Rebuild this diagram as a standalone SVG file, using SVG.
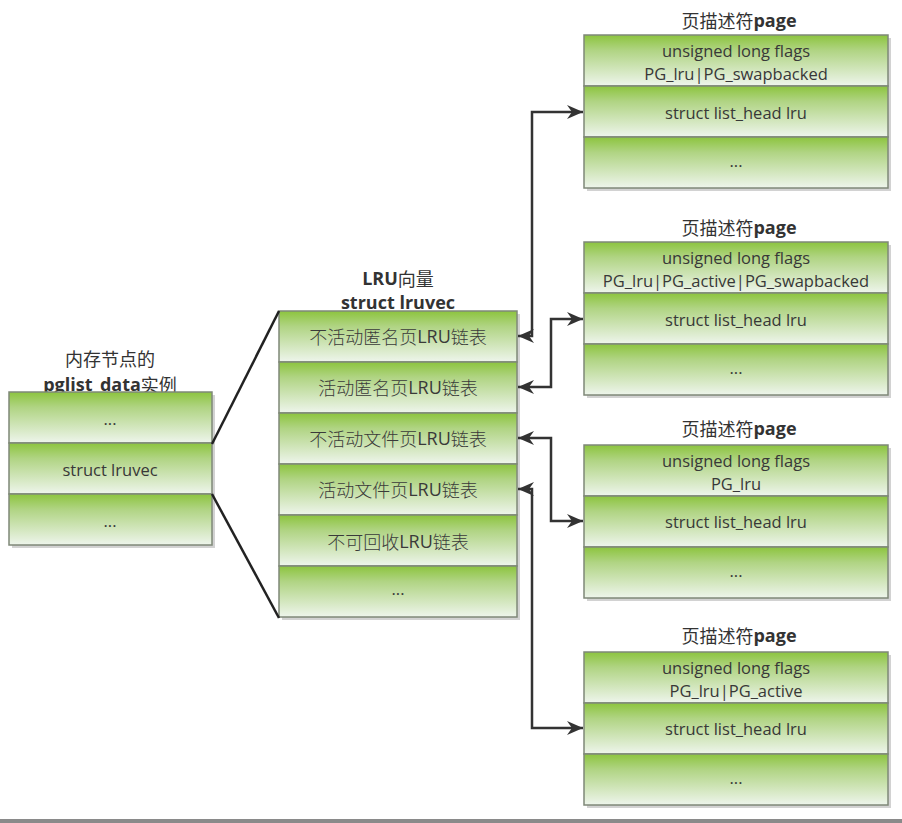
<svg xmlns="http://www.w3.org/2000/svg" width="902" height="823" viewBox="0 0 902 823">
<defs>
<linearGradient id="g" x1="0" y1="0" x2="0" y2="1">
<stop offset="0" stop-color="#8cc43e"/>
<stop offset="0.3" stop-color="#b0d483"/>
<stop offset="1" stop-color="#eef5ec"/>
</linearGradient>
<marker id="ah" markerUnits="userSpaceOnUse" markerWidth="17" markerHeight="14" refX="16" refY="7" orient="auto-start-reverse" viewBox="0 0 17 14">
<path d="M0,0 L16,7 L0,14 L5,7 z" fill="#333"/>
</marker>
</defs>
<style>
.row{fill:url(#g);stroke:#7f8878;stroke-width:1.5}
.sh{fill:#d2d2d2}
.en{font-family:"Open Sans","Noto Sans",sans-serif;font-size:16.5px;fill:#383838;text-anchor:middle;dominant-baseline:central}
.cn{font-family:"Noto Sans CJK SC",sans-serif;font-size:18px;font-weight:300;fill:#3a3a3a;text-anchor:middle;dominant-baseline:central}
.tt{font-family:"Noto Sans CJK SC",sans-serif;font-size:18px;fill:#333;text-anchor:middle;dominant-baseline:central}
.b{font-family:"Open Sans","Noto Sans",sans-serif;font-weight:bold}
.l{font-family:"Open Sans","Noto Sans",sans-serif;font-weight:normal}
.con{fill:none;stroke:#333;stroke-width:2.5}
.ln{fill:none;stroke:#222;stroke-width:2.5}
</style>

<g id="pglist_data">
<text class="tt" x="110" y="358">内存节点的</text>
<text class="tt" x="110" y="384"><tspan class="b">pglist_data</tspan>实例</text>
<rect class="sh" x="12" y="395" width="203" height="153"/>
<rect class="row" x="9" y="392" width="203" height="51"/>
<rect class="row" x="9" y="443" width="203" height="51"/>
<rect class="row" x="9" y="494" width="203" height="51"/>
<text class="en" x="110" y="418">...</text>
<text class="en" x="110" y="469">struct lruvec</text>
<text class="en" x="110" y="520">...</text>
</g>

<g id="lruvec">
<text class="tt" x="398" y="278"><tspan class="b">LRU</tspan>向量</text>
<text class="tt b" x="398" y="302">struct lruvec</text>
<rect class="sh" x="282" y="314" width="238" height="306"/>
<rect class="row" x="279" y="311" width="238" height="51"/>
<rect class="row" x="279" y="362" width="238" height="51"/>
<rect class="row" x="279" y="413" width="238" height="51"/>
<rect class="row" x="279" y="464" width="238" height="51"/>
<rect class="row" x="279" y="515" width="238" height="51"/>
<rect class="row" x="279" y="566" width="238" height="51"/>
<text class="cn" x="398" y="336">不活动匿名页<tspan class="l">LRU</tspan>链表</text>
<text class="cn" x="398" y="387">活动匿名页<tspan class="l">LRU</tspan>链表</text>
<text class="cn" x="398" y="438">不活动文件页<tspan class="l">LRU</tspan>链表</text>
<text class="cn" x="398" y="489">活动文件页<tspan class="l">LRU</tspan>链表</text>
<text class="cn" x="398" y="541">不可回收<tspan class="l">LRU</tspan>链表</text>
<text class="en" x="398" y="588">...</text>
</g>

<g id="page1">
<text class="tt" x="739" y="20">页描述符<tspan class="b">page</tspan></text>
<rect class="sh" x="587" y="38" width="304" height="153"/>
<rect class="row" x="584" y="35" width="304" height="51"/>
<rect class="row" x="584" y="86" width="304" height="51"/>
<rect class="row" x="584" y="137" width="304" height="51"/>
<text class="en" x="736" y="50">unsigned long flags</text>
<text class="en" x="736" y="73">PG_lru|PG_swapbacked</text>
<text class="en" x="736" y="112">struct list_head lru</text>
<text class="en" x="736" y="160">...</text>
</g>

<g id="page2">
<text class="tt" x="739" y="227">页描述符<tspan class="b">page</tspan></text>
<rect class="sh" x="587" y="245" width="304" height="153"/>
<rect class="row" x="584" y="242" width="304" height="51"/>
<rect class="row" x="584" y="293" width="304" height="51"/>
<rect class="row" x="584" y="344" width="304" height="51"/>
<text class="en" x="736" y="257">unsigned long flags</text>
<text class="en" x="736" y="280">PG_lru|PG_active|PG_swapbacked</text>
<text class="en" x="736" y="319">struct list_head lru</text>
<text class="en" x="736" y="367">...</text>
</g>

<g id="page3">
<text class="tt" x="739" y="428">页描述符<tspan class="b">page</tspan></text>
<rect class="sh" x="587" y="448" width="304" height="153"/>
<rect class="row" x="584" y="445" width="304" height="51"/>
<rect class="row" x="584" y="496" width="304" height="51"/>
<rect class="row" x="584" y="547" width="304" height="51"/>
<text class="en" x="736" y="460">unsigned long flags</text>
<text class="en" x="736" y="483">PG_lru</text>
<text class="en" x="736" y="521">struct list_head lru</text>
<text class="en" x="736" y="570">...</text>
</g>

<g id="page4">
<text class="tt" x="739" y="635">页描述符<tspan class="b">page</tspan></text>
<rect class="sh" x="587" y="655" width="304" height="153"/>
<rect class="row" x="584" y="652" width="304" height="51"/>
<rect class="row" x="584" y="703" width="304" height="51"/>
<rect class="row" x="584" y="754" width="304" height="51"/>
<text class="en" x="736" y="667">unsigned long flags</text>
<text class="en" x="736" y="690">PG_lru|PG_active</text>
<text class="en" x="736" y="728">struct list_head lru</text>
<text class="en" x="736" y="777">...</text>
</g>

<g id="connectors">
<path class="ln" d="M212,444 L279,311"/>
<path class="ln" d="M212,494 L279,618"/>
<path class="con" d="M518,336 H532 V112 H583" marker-start="url(#ah)" marker-end="url(#ah)"/>
<path class="con" d="M518,387 H551 V319 H583" marker-start="url(#ah)" marker-end="url(#ah)"/>
<path class="con" d="M518,438 H551 V521 H583" marker-start="url(#ah)" marker-end="url(#ah)"/>
<path class="con" d="M518,489 H532 V728 H583" marker-start="url(#ah)" marker-end="url(#ah)"/>
</g>

<rect x="0" y="819" width="902" height="4" fill="#8a8a8a"/>
</svg>
